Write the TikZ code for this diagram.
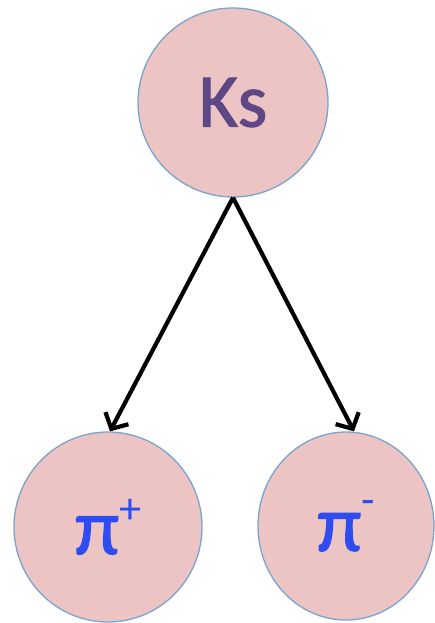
\documentclass[tikz,border=0pt]{standalone}
\usepackage{fontspec}
\setmainfont{Carlito}
\usetikzlibrary{arrows.meta,shapes.geometric}
\definecolor{nodefill}{HTML}{EBC4C3}
\definecolor{nodeedge}{HTML}{7BA3CF}
\definecolor{kstext}{HTML}{5E4785}
\definecolor{pitext}{HTML}{2F4BF2}
\newfontfamily\heavyfont[FakeBold=1.4]{Carlito}
\newfontfamily\supfont{Carlito}
\begin{document}
\begin{tikzpicture}[x=1pt,y=-1pt,
  ball/.style={ellipse, fill=nodefill, draw=nodeedge, line width=1.3pt, inner sep=0pt},
  conn/.style={line width=4.2pt, -{Straight Barb[length=12pt,width=26pt]}}]
\useasboundingbox (0,0) rectangle (435,623);
\node[ball, minimum width=190pt, minimum height=189pt, font=\heavyfont\fontsize{76}{80}\selectfont, text=kstext] (ks) at (233,102.5) {Ks};
\node[ball, minimum width=188pt, minimum height=190pt, font=\heavyfont\fontsize{80}{84}\selectfont, text=pitext] (pp) at (108,527) {π\raisebox{0.8ex}{\supfont\fontsize{44}{44}\selectfont +}};
\node[ball, minimum width=176pt, minimum height=188pt, font=\heavyfont\fontsize{80}{84}\selectfont, text=pitext] (pm) at (346,526) {π\raisebox{0.95ex}{\supfont\fontsize{44}{44}\selectfont -}};
\draw[conn] (ks.south) -- ([xshift=2pt]pp.north);
\draw[conn] (ks.south) -- ([xshift=8pt]pm.north);
\end{tikzpicture}
\end{document}
